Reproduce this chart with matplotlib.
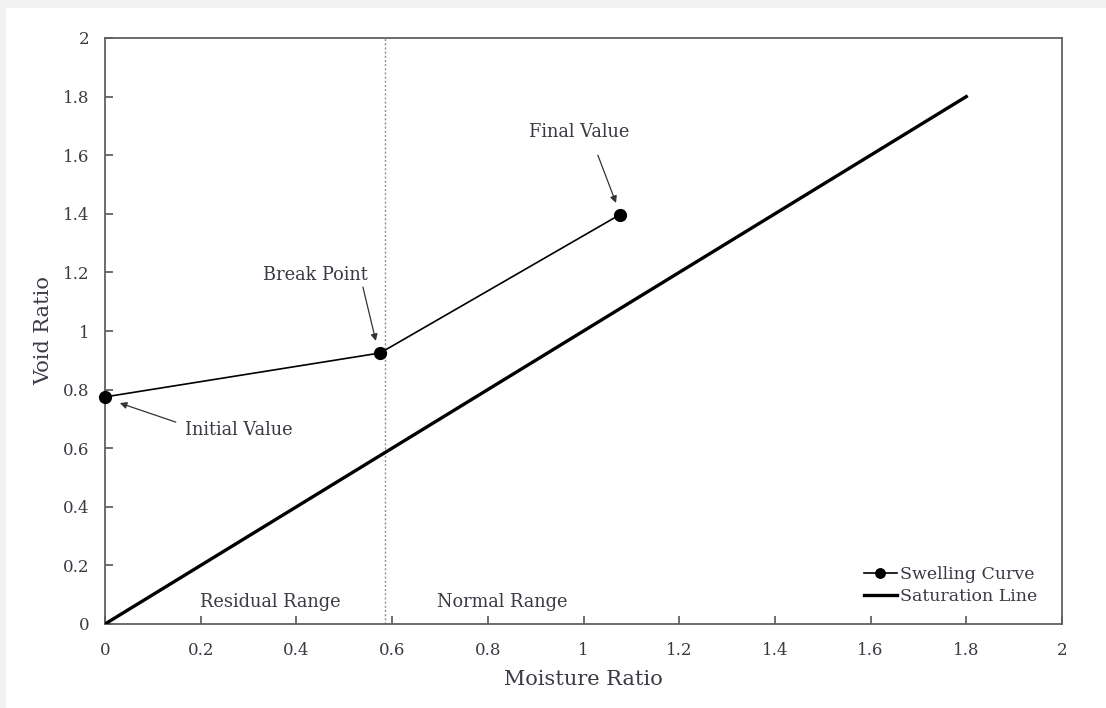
import matplotlib.pyplot as plt
from matplotlib.patches import Rectangle

# swelling curve points: initial, break, final
moisture = [0.0, 0.575, 1.076]
void = [0.775, 0.925, 1.397]
point_names = ['Initial Value', 'Break Point', 'Final Value']

# saturation line end points
sat_x = [0.0, 1.8]
sat_y = [0.0, 1.8]

break_x = 0.585
ticks = [0, 0.2, 0.4, 0.6, 0.8, 1, 1.2, 1.4, 1.6, 1.8, 2]
tick_labels = ['0', '0.2', '0.4', '0.6', '0.8', '1', '1.2', '1.4', '1.6', '1.8', '2']

plt.rcParams['font.family'] = ['DejaVu Serif']
txt = '#3a3a44'

fig = plt.figure(figsize=(11.06, 7.08), dpi=100, facecolor='#f2f2f2')
fig.patches.append(Rectangle((6 / 1106, 0), 1, 1 - 8 / 708, transform=fig.transFigure,
                             facecolor='white', edgecolor='none', zorder=-10))
ax = fig.add_axes([105 / 1106, 1 - 624 / 708, 957 / 1106, 586 / 708])
ax.set_facecolor('white')

ax.plot(sat_x, sat_y, color='black', lw=2.4, label='Saturation Line', zorder=3)
ax.plot(moisture, void, color='black', lw=1.2, marker='o', ms=8.5, label='Swelling Curve',
        clip_on=False, zorder=4)
ax.axvline(break_x, color='#909090', lw=1, ls=(0, (1.5, 1.5)), zorder=2)

# label positions and arrow tails / heads for the three points
label_pos = [(0.28, 0.662), (0.44, 1.19), (0.99, 1.68)]
arrow_tail = [(0.148, 0.689), (0.539, 1.15), (1.03, 1.60)]
arrow_head = [(0.031, 0.754), (0.566, 0.966), (1.068, 1.437)]
for name, (tx, ty), tail, head in zip(point_names, label_pos, arrow_tail, arrow_head):
    ax.text(tx, ty, name, ha='center', va='center', fontsize=12.8, color=txt)
    ax.annotate('', xy=head, xytext=tail,
                arrowprops=dict(arrowstyle='-|>', color='#333333', lw=0.9,
                                mutation_scale=10, shrinkA=0, shrinkB=0))

ax.text(0.346, 0.075, 'Residual Range', ha='center', va='center', fontsize=12.8, color=txt)
ax.text(0.83, 0.075, 'Normal Range', ha='center', va='center', fontsize=12.8, color=txt)

ax.set_xlim(0, 2)
ax.set_ylim(0, 2)
ax.set_xticks(ticks)
ax.set_xticklabels(tick_labels)
ax.set_yticks(ticks)
ax.set_yticklabels(tick_labels)
ax.tick_params(direction='in', length=6, width=1.2, colors='#555555', labelcolor=txt,
               labelsize=12)
ax.tick_params(axis='x', pad=13)
ax.tick_params(axis='y', pad=11)
for sp in ax.spines.values():
    sp.set_color('#606060')
    sp.set_linewidth(1.3)

ax.set_xlabel('Moisture Ratio', fontsize=15, color=txt, labelpad=8)
ax.set_ylabel('Void Ratio', fontsize=15, color=txt, labelpad=7)

handles, labels = ax.get_legend_handles_labels()
ax.legend(handles[::-1], labels[::-1], loc='lower right', frameon=False, fontsize=12.5,
          handlelength=1.9, handletextpad=0.15, labelspacing=0.3, markerscale=0.8,
          bbox_to_anchor=(0.99, 0.005), labelcolor=txt)

fig.savefig('out.png', dpi=100, facecolor=fig.get_facecolor())
